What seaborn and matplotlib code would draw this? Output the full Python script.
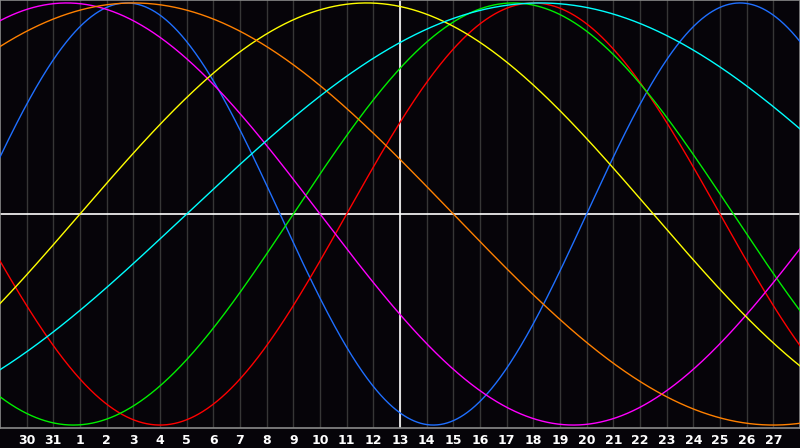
import numpy as np
import pandas as pd
import matplotlib
matplotlib.use("Agg")
import matplotlib.pyplot as plt
import seaborn as sns

# days of the month shown under the grid (left edge is the 29th of the previous month)
day_labels = ["30", "31", "1", "2", "3", "4", "5", "6", "7", "8", "9", "10", "11", "12", "13",
              "14", "15", "16", "17", "18", "19", "20", "21", "22", "23", "24", "25", "26", "27"]
cycle_names = ["physical", "emotional", "intellectual", "intuitive", "aesthetic", "awareness", "spiritual"]
cycle_periods = [23, 28, 33, 38, 43, 48, 53]
cycle_colors = ["#1f6fff", "#ff0000", "#00ee00", "#ff00ff", "#ffff00", "#ff8000", "#00ffff"]
days_alive_at_left = 16423
today_index = 15  # the 13th
n_days = 30

BG = "#060409"


def build_frame():
    rows = []
    x = np.linspace(0, n_days, 1201)
    for name, period in zip(cycle_names, cycle_periods):
        y = np.sin(2 * np.pi * (days_alive_at_left + x) / period)
        rows.append(pd.DataFrame({"day": x, "value": y, "cycle": name}))
    return pd.concat(rows, ignore_index=True)


def main():
    df = build_frame()
    fig = plt.figure(figsize=(8, 4.48), dpi=100, facecolor=BG)
    ax = fig.add_axes([0.0, 20 / 448, 1.0, 428 / 448])
    ax.set_facecolor(BG)

    for i in range(1, n_days):
        ax.axvline(i, color="#363636", lw=1.0, zorder=1)
    ax.axvline(today_index, color="white", lw=1.2, zorder=2)
    ax.axhline(0, color="white", lw=1.2, zorder=2)

    sns.lineplot(data=df, x="day", y="value", hue="cycle", hue_order=cycle_names,
                 palette=dict(zip(cycle_names, cycle_colors)), lw=1.0,
                 legend=False, ax=ax, zorder=3, estimator=None, sort=False)

    ax.set_xlim(0, n_days)
    ax.set_ylim(-1.014, 1.014)
    ax.set_xticks(range(1, n_days))
    ax.set_xticklabels(day_labels, color="white", fontweight="bold", fontsize=9,
                       family="DejaVu Sans")
    ax.tick_params(axis="x", length=0, pad=4)
    ax.set_yticks([])
    ax.set_xlabel("")
    ax.set_ylabel("")
    for side in ["left", "bottom", "top", "right"]:
        ax.spines[side].set_color("#8a8a8a")
        ax.spines[side].set_linewidth(1.2)

    fig.savefig("out.png", dpi=100, facecolor=BG)


if __name__ == "__main__":
    main()
